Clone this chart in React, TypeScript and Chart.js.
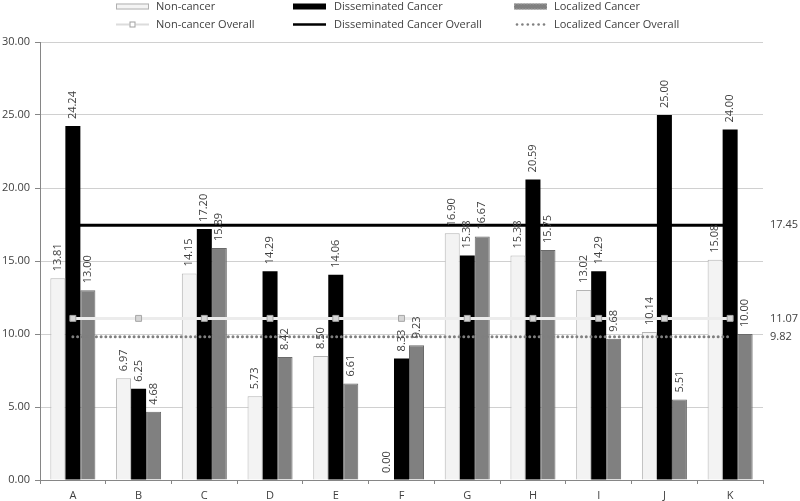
import React, { useEffect, useRef } from "react";
import { Chart, registerables } from "chart.js";

Chart.register(...registerables);

const categories = ["A", "B", "C", "D", "E", "F", "G", "H", "I", "J", "K"];
const nonCancer = [13.81, 6.97, 14.15, 5.73, 8.5, 0.0, 16.9, 15.38, 13.02, 10.14, 15.08];
const disseminated = [24.24, 6.25, 17.2, 14.29, 14.06, 8.33, 15.38, 20.59, 14.29, 25.0, 24.0];
const localized = [13.0, 4.68, 15.89, 8.42, 6.61, 9.23, 16.67, 15.75, 9.68, 5.51, 10.0];
const nonCancerOverall = [11.07, 11.07, 11.07, 11.07, 11.07, 11.07, 11.07, 11.07, 11.07, 11.07, 11.07];
const disseminatedOverall = [17.45, 17.45, 17.45, 17.45, 17.45, 17.45, 17.45, 17.45, 17.45, 17.45, 17.45];
const localizedOverall = [9.82, 9.82, 9.82, 9.82, 9.82, 9.82, 9.82, 9.82, 9.82, 9.82, 9.82];
const yMin = 0;
const yMax = 30;
const yStep = 5;

const seriesNames = [
  "Non-cancer",
  "Disseminated Cancer",
  "Localized Cancer",
  "Non-cancer Overall",
  "Disseminated Cancer Overall",
  "Localized Cancer Overall",
];

const FONT = "'Open Sans', 'Noto Sans', sans-serif";
const TEXT = "#404040";

const barLabelPlugin = {
  id: "barLabels",
  afterDatasetsDraw(chart: any) {
    const ctx = chart.ctx;
    ctx.save();
    ctx.font = `11px ${FONT}`;
    ctx.fillStyle = TEXT;
    chart.data.datasets.forEach((ds: any, i: number) => {
      const meta = chart.getDatasetMeta(i);
      if (ds.type === "line") {
        const last = meta.data[meta.data.length - 1];
        const v = ds.data[ds.data.length - 1];
        ctx.textAlign = "left";
        ctx.textBaseline = "middle";
        ctx.fillText(v.toFixed(2), chart.chartArea.right + 7, last.y);
        return;
      }
      meta.data.forEach((el: any, j: number) => {
        const v = ds.data[j];
        ctx.save();
        ctx.translate(el.x, el.y - 7);
        ctx.rotate(-Math.PI / 2);
        ctx.textAlign = "left";
        ctx.textBaseline = "middle";
        ctx.fillText(v.toFixed(2), 0, 0);
        ctx.restore();
      });
    });
    ctx.restore();
  },
};

const legendPlugin = {
  id: "customLegend",
  afterDraw(chart: any) {
    const ctx = chart.ctx;
    ctx.save();
    const cols = [
      { box: 116, text: 156 },
      { box: 293, text: 334 },
      { box: 514, text: 554 },
    ];
    const rows = [6.5, 24.5];
    const bw = 33;
    ctx.font = `11px ${FONT}`;
    ctx.fillStyle = TEXT;
    ctx.textAlign = "left";
    ctx.textBaseline = "middle";
    seriesNames.forEach((name, k) => {
      const c = cols[k % 3];
      const y = rows[Math.floor(k / 3)];
      ctx.fillStyle = TEXT;
      ctx.fillText(name, c.text, y);
      const x0 = c.box;
      if (k === 0) {
        ctx.fillStyle = "#f4f4f4";
        ctx.fillRect(x0, y - 3, bw, 6);
        ctx.strokeStyle = "#b0b0b0";
        ctx.lineWidth = 1;
        ctx.strokeRect(x0 + 0.5, y - 2.5, bw - 1, 5);
      } else if (k === 1) {
        ctx.fillStyle = "#000";
        ctx.fillRect(x0, y - 3, bw, 6);
      } else if (k === 2) {
        ctx.fillStyle = "#808080";
        ctx.fillRect(x0, y - 3, bw, 6);
        ctx.strokeStyle = "#a0a0a0";
        ctx.setLineDash([1.5, 1.5]);
        ctx.strokeRect(x0 + 0.5, y - 2.5, bw - 1, 5);
        ctx.setLineDash([]);
      } else if (k === 3) {
        ctx.strokeStyle = "#dcdcdc";
        ctx.lineWidth = 2;
        ctx.beginPath();
        ctx.moveTo(x0, y);
        ctx.lineTo(x0 + bw, y);
        ctx.stroke();
        ctx.fillStyle = "#fff";
        ctx.fillRect(x0 + bw / 2 - 3, y - 3, 6, 6);
        ctx.strokeStyle = "#a0a0a0";
        ctx.lineWidth = 1;
        ctx.strokeRect(x0 + bw / 2 - 2.5, y - 2.5, 5, 5);
      } else if (k === 4) {
        ctx.strokeStyle = "#000";
        ctx.lineWidth = 2.5;
        ctx.beginPath();
        ctx.moveTo(x0, y);
        ctx.lineTo(x0 + bw, y);
        ctx.stroke();
      } else {
        ctx.fillStyle = "#808080";
        for (let d = 0; d < 6; d++) {
          ctx.beginPath();
          ctx.arc(x0 + 3 + d * 5.4, y, 1.3, 0, Math.PI * 2);
          ctx.fill();
        }
      }
    });
    ctx.restore();
  },
};

export default function App() {
  const ref = useRef<HTMLCanvasElement | null>(null);

  useEffect(() => {
    if (!ref.current) return;
    const chart = new Chart(ref.current, {
      type: "bar",
      data: {
        labels: categories,
        datasets: [
          {
            type: "line",
            label: seriesNames[3],
            data: nonCancerOverall,
            borderColor: "#ececec",
            borderWidth: 3,
            pointStyle: "rect",
            pointRadius: 4.2,
            pointBackgroundColor: "#d6d6d6",
            pointBorderColor: "#a6a6a6",
            pointBorderWidth: 1,
            order: 0,
          } as any,
          {
            type: "line",
            label: seriesNames[4],
            data: disseminatedOverall,
            borderColor: "#000000",
            borderWidth: 3,
            pointRadius: 0,
            order: 0,
          } as any,
          {
            type: "line",
            label: seriesNames[5],
            data: localizedOverall,
            borderColor: "#7f7f7f",
            borderWidth: 3,
            borderDash: [0.01, 4.7],
            borderCapStyle: "round",
            pointRadius: 0,
            order: 0,
          } as any,
          {
            label: seriesNames[0],
            data: nonCancer,
            backgroundColor: "#f3f3f3",
            borderColor: "#b4b4b4",
            borderWidth: 1,
            order: 1,
          },
          {
            label: seriesNames[1],
            data: disseminated,
            backgroundColor: "#000000",
            borderColor: "#000000",
            borderWidth: 0,
            order: 1,
          },
          {
            label: seriesNames[2],
            data: localized,
            backgroundColor: "#808080",
            borderColor: "#6a6a6a",
            borderWidth: 1,
            order: 1,
          },
        ],
      },
      options: {
        responsive: false,
        animation: false,
        datasets: {
          bar: { categoryPercentage: 0.685, barPercentage: 1.0 },
        },
        layout: { padding: { top: 42, right: 37, left: 0, bottom: 0 } },
        plugins: {
          legend: { display: false },
          tooltip: { enabled: false },
        },
        scales: {
          x: {
            offset: true,
            afterFit: (axis: any) => {
              axis.height = 21;
            },
            grid: {
              display: true,
              offset: true,
              drawOnChartArea: false,
              drawTicks: true,
              tickLength: 4,
              color: "#868686",
            },
            border: { display: true, color: "#868686", width: 1 },
            ticks: {
              color: TEXT,
              font: { family: FONT, size: 11 },
              padding: 5,
              maxRotation: 0,
            },
          },
          y: {
            min: yMin,
            max: yMax,
            afterFit: (axis: any) => {
              axis.width = 40;
            },
            grid: {
              color: "#d0d0d0",
              tickColor: "#868686",
              tickLength: 5,
              drawTicks: true,
            },
            border: { display: true, color: "#868686", width: 1 },
            ticks: {
              stepSize: yStep,
              color: TEXT,
              font: { family: FONT, size: 11 },
              padding: 5,
              callback: (v: any) => Number(v).toFixed(2),
            },
          },
        },
      },
      plugins: [barLabelPlugin, legendPlugin],
    });
    return () => chart.destroy();
  }, []);

  return (
    <div style={{ position: "fixed", left: 0, top: 0, width: 800, height: 501, background: "#fff" }}>
      <canvas ref={ref} width={800} height={501} style={{ width: 800, height: 501, display: "block" }} />
    </div>
  );
}
